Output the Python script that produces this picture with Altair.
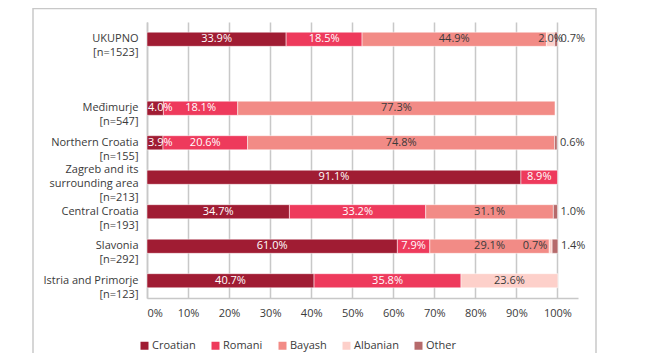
import altair as alt
import pandas as pd

regions = ["UKUPNO|[n=1523]", " ", "Međimurje|[n=547]", "Northern Croatia|[n=155]",
           "Zagreb and its|surrounding area|[n=213]", "Central Croatia|[n=193]",
           "Slavonia|[n=292]", "Istria and Primorje|[n=123]"]
groups = ["Croatian", "Romani", "Bayash", "Albanian", "Other"]
colors = ["#A01C33", "#EE3A5C", "#F28B86", "#FDD0CA", "#B66A6B"]

croatian = [33.9, None, 4.0, 3.9, 91.1, 34.7, 61.0, 40.7]
romani   = [18.5, None, 18.1, 20.6, 8.9, 33.2, 7.9, 35.8]
bayash   = [44.9, None, 77.3, 74.8, 0, 31.1, 29.1, 0]
albanian = [2.0, None, 0, 0, 0, 0, 0.7, 23.6]
other    = [0.7, None, 0, 0.6, 0, 1.0, 1.4, 0]

series = [croatian, romani, bayash, albanian, other]
rows = []
for gi, (g, vals) in enumerate(zip(groups, series)):
    for r, v in zip(regions, vals):
        if v:
            rows.append({"region": r, "group": g, "order": gi, "value": v})
df = pd.DataFrame(rows)

FONT = "Open Sans"
FS = 11
TXT = "#3a3a3a"

base = alt.Chart(df).transform_stack(
    stack="value", groupby=["region"], as_=["x0", "x1"],
    sort=[alt.SortField("order", order="ascending")]
).transform_calculate(
    mid="(datum.x0 + datum.x1) / 2",
    lbl="format(datum.value, '.1f') + '%'"
)

yenc = alt.Y("region:N",
             scale=alt.Scale(domain=regions, paddingInner=0.59, paddingOuter=0.295),
             axis=alt.Axis(title=None, labelExpr="split(datum.label, '|')",
                           labelFont=FONT, labelFontSize=FS, labelColor=TXT,
                           labelLineHeight=14,
                           labelOffset={"condition": {"test": "indexof(datum.label, 'Zagreb') >= 0",
                                                      "value": -7},
                                        "value": 0},
                           labelPadding=9,
                           ticks=False, domain=True, domainColor="#c8c8c8",
                           domainWidth=1.5, grid=False))
xscale = alt.Scale(domain=[0, 105], nice=False)

bars = base.mark_bar(stroke="white", strokeWidth=0.5).encode(
    x=alt.X("x0:Q", scale=xscale,
            axis=alt.Axis(title=None, values=list(range(0, 101, 10)),
                          labelExpr="datum.value + '%'", labelFont=FONT,
                          labelFontSize=FS, labelColor=TXT, ticks=False,
                          labelPadding=9, grid=True, gridColor="#c8c8c8",
                          gridWidth=1.5, domainColor="#c8c8c8", domainWidth=1.5)),
    x2="x1:Q",
    y=yenc,
    color=alt.Color("group:N", scale=alt.Scale(domain=groups, range=colors),
                    sort=groups,
                    legend=alt.Legend(title=None, orient="none", legendX=-8, legendY=318,
                                      direction="horizontal", columns=5,
                                      symbolType="square", symbolSize=64,
                                      symbolStrokeWidth=0, labelFont=FONT,
                                      labelFontSize=FS, labelColor=TXT,
                                      labelOffset=2, columnPadding=14)),
)

textcolor = alt.condition("datum.group === 'Croatian' || datum.group === 'Romani'",
                          alt.value("white"), alt.value(TXT))

main_lbl = base.transform_filter(
    "datum.group !== 'Other' && datum.value >= 1.5 && !(datum.x0 === 0 && datum.value < 5)"
).mark_text(font=FONT, fontSize=FS, align="center", baseline="middle").encode(
    x=alt.X("mid:Q", scale=xscale), y=alt.Y("region:N"),
    text="lbl:N", color=textcolor)

start_lbl = base.transform_filter(
    "datum.x0 === 0 && datum.value < 5"
).mark_text(font=FONT, fontSize=FS, align="left", baseline="middle", dx=1,
            color="white").encode(
    x=alt.X("x0:Q", scale=xscale), y=alt.Y("region:N"), text="lbl:N")

other_lbl = base.transform_filter("datum.group === 'Other'").mark_text(
    font=FONT, fontSize=FS, align="left", baseline="middle", dx=3, color=TXT
).encode(x=alt.X("x1:Q", scale=xscale), y=alt.Y("region:N"), text="lbl:N")

tiny_lbl = base.transform_filter(
    "datum.group !== 'Other' && datum.value < 1.5"
).mark_text(
    font=FONT, fontSize=FS, align="right", baseline="middle", dx=-2, color=TXT
).encode(x=alt.X("x0:Q", scale=xscale), y=alt.Y("region:N"), text="lbl:N")

one = alt.Data(values=[{}])
frame_l = alt.Chart(one).mark_rule(color="#c8c8c8", strokeWidth=1.5).encode(
    x=alt.value(-114), y=alt.value(-14), y2=alt.value(331))
frame_r = alt.Chart(one).mark_rule(color="#c8c8c8", strokeWidth=1.5).encode(
    x=alt.value(449), y=alt.value(-14), y2=alt.value(331))
frame_t = alt.Chart(one).mark_rule(color="#c8c8c8", strokeWidth=1.5).encode(
    x=alt.value(-114), x2=alt.value(449), y=alt.value(-13.5))

chart = alt.layer(bars, main_lbl, start_lbl, other_lbl, tiny_lbl,
                  frame_l, frame_r, frame_t).properties(
    width=431, height=276,
    autosize=alt.AutoSizeParams(type="none"),
    padding={"left": 139, "top": 14, "right": 67, "bottom": 55},
).configure_view(stroke=None)

chart.save("out.html", embed_options={"renderer": "svg", "actions": False})
